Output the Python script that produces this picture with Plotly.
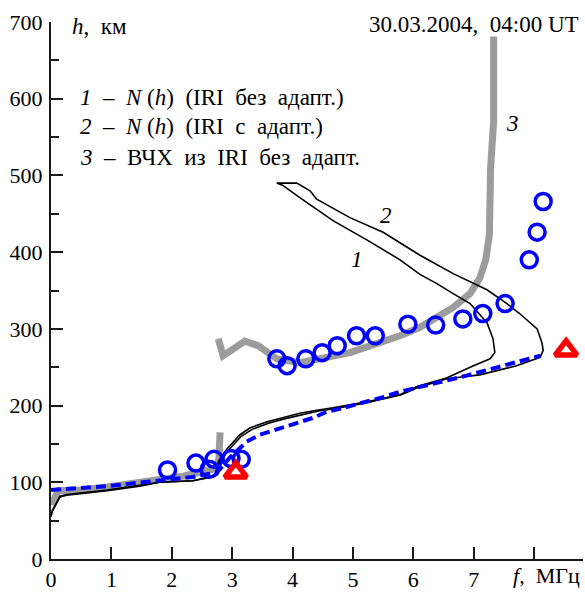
import plotly.graph_objects as go

# Curve 1: N(h) (IRI without adaptation) -- plasma frequency (MHz) vs height (km)
f1 = [0.0, 0.02, 0.15, 0.26, 0.93, 1.47, 1.8, 2.35, 2.68, 2.75, 2.77, 2.91, 3.13, 3.3, 3.58,
      3.85, 4.12, 4.4, 4.67, 5.23, 5.78, 6.06, 6.55, 6.94, 7.27, 7.35, 7.32, 7.22, 6.94, 6.66,
      6.39, 6.11, 5.78, 5.23, 4.67, 4.12, 3.84, 3.74]
h1 = [55, 62, 81, 83, 89, 95, 100, 102, 108, 111, 127, 143, 162, 171, 179,
      185, 190, 194, 197, 205, 214, 225, 236, 250, 261, 269, 287, 308, 333, 346,
      359, 371, 390, 416, 441, 471, 487, 490]

# Curve 2: N(h) (IRI with adaptation)
f2 = [0.0, 0.02, 0.15, 0.26, 0.93, 1.47, 1.8, 2.35, 2.68, 2.76, 2.79, 2.93, 3.15, 3.33, 3.6,
      3.88, 4.15, 4.43, 4.7, 5.25, 5.8, 6.06, 6.55, 7.1, 7.71, 8.1, 8.15, 8.13, 8.05, 7.76,
      7.55, 7.22, 6.66, 6.11, 5.5, 4.95, 4.4, 4.29, 4.07, 3.74]
h2 = [56, 63, 82, 84, 90, 96, 100, 102, 107, 110, 126, 141, 160, 169, 177,
      183, 188, 193, 196, 204, 214, 223, 235, 240, 252, 263, 272, 282, 300, 320,
      333, 351, 372, 396, 426, 445, 469, 480, 490, 490]

# Blue dashed profile
fb = [0.0, 0.93, 1.64, 2.35, 2.75, 2.96, 3.24, 3.46, 3.74, 4.07, 4.34, 4.57, 4.84, 5.5,
      5.78, 6.88, 7.71, 8.1]
hb = [90, 95, 101, 107, 113, 132, 153, 162, 169, 177, 184, 192, 197, 211,
      218, 239, 256, 265]

# Curve 3: virtual height characteristic (ВЧХ) from IRI, E part and F part
fg_e = [0.02, 0.04, 0.12, 0.5, 0.93, 1.47, 1.8, 2.19, 2.58, 2.72, 2.78, 2.8]
hg_e = [70, 76, 89, 90, 94, 100, 104, 108, 115, 118, 130, 165]
fg_f = [2.77, 2.85, 3.02, 3.21, 3.43, 3.57, 3.74, 4.12, 4.95, 5.78, 6.11, 6.39, 6.66,
        6.94, 7.1, 7.2, 7.26, 7.28, 7.31, 7.33, 7.33]
hg_f = [287, 265, 274, 284, 278, 269, 261, 256, 269, 291, 302, 315, 328,
        346, 366, 390, 423, 510, 550, 570, 681]

# Observed ionogram points (blue circles)
fc = [1.93, 2.40, 2.62, 2.70, 2.98, 3.15,
      3.74, 3.91, 4.22, 4.49, 4.74, 5.06, 5.37, 5.91, 6.37, 6.82, 7.15, 7.52, 7.92, 8.05, 8.15]
hc = [116, 125, 117, 130, 131, 130,
      261, 252, 261, 269, 278, 291, 291, 306, 305, 313, 320, 333, 390, 426, 466]

# Critical frequencies (red triangles)
ft = [3.06, 8.53]
ht = [113, 272]

x_ticks = [0, 1, 2, 3, 4, 5, 6, 7, 8]
x_labels = ["0", "1", "2", "3", "4", "5", "6", "7", ""]
y_ticks = [0, 100, 200, 300, 400, 500, 600, 700]

FONT = "Liberation Serif"
SP = "\u00a0"
fig = go.Figure()

fig.add_trace(go.Scatter(x=fg_e + [None] + fg_f, y=hg_e + [None] + hg_f, mode="lines",
                         line=dict(color="#9c9c9c", width=7), connectgaps=False, hoverinfo="skip"))
fig.add_trace(go.Scatter(x=f1, y=h1, mode="lines", line=dict(color="black", width=1.6)))
fig.add_trace(go.Scatter(x=f2, y=h2, mode="lines", line=dict(color="black", width=1.6)))
fig.add_trace(go.Scatter(x=fb, y=hb, mode="lines",
                         line=dict(color="#0000ff", width=4, dash="10px,5px")))
fig.add_trace(go.Scatter(x=fc, y=hc, mode="markers",
                         marker=dict(symbol="circle-open", size=16, color="#0000ff",
                                     line=dict(width=3.5, color="#0000ff"))))
fig.add_trace(go.Scatter(x=ft, y=ht, mode="markers",
                         marker=dict(symbol="triangle-up-open", size=19, color="#ff0000",
                                     line=dict(width=5.5, color="#ff0000"))))

D = f"{SP}{SP}"
leg1 = f"<i>1</i>{D}–{D}<i>N</i>{SP}(<i>h</i>){D}(IRI{D}без{D}адапт.)"
leg2 = f"<i>2</i>{D}–{D}<i>N</i>{SP}(<i>h</i>){D}(IRI{D}с{D}адапт.)"
leg3 = f"<i>3</i>{D}–{D}ВЧХ{D}из{D}IRI{D}без{D}адапт."

ann = [
    dict(x=0.31, y=694, text=f"<i>h</i>,{D}км", xanchor="left", size=23),
    dict(x=8.78, y=697, text=f"30.03.2004,{D}04:00{SP}UT", xanchor="right", size=23),
    dict(x=0.45, y=602, text=leg1, xanchor="left", size=23),
    dict(x=0.45, y=564, text=leg2, xanchor="left", size=23),
    dict(x=0.45, y=523, text=leg3, xanchor="left", size=23),
    dict(x=5.55, y=448, text="<i>2</i>", xanchor="center", size=23),
    dict(x=5.07, y=391, text="<i>1</i>", xanchor="center", size=23),
    dict(x=7.65, y=568, text="<i>3</i>", xanchor="center", size=23),
]
annotations = [dict(x=a["x"], y=a["y"], xref="x", yref="y", text=a["text"], showarrow=False,
                    xanchor=a["xanchor"], yanchor="middle",
                    font=dict(family=FONT, size=a["size"], color="black")) for a in ann]
annotations.append(dict(x=8.0, y=0, xref="x", yref="y", text=f"<i>f</i>,{D}МГц", showarrow=False,
                        xanchor="center", yanchor="top", yshift=-2, xshift=12,
                        font=dict(family=FONT, size=22, color="black")))

fig.update_layout(
    width=585, height=594,
    margin=dict(l=51, r=2, t=22, b=28),
    paper_bgcolor="white", plot_bgcolor="white",
    showlegend=False,
    font=dict(family=FONT, size=22, color="black"),
    annotations=annotations,
    xaxis=dict(range=[0, 8.81], tickmode="array", tickvals=x_ticks, ticktext=x_labels,
               showline=True, linecolor="#1a1a1a", linewidth=2, ticks="inside", ticklen=12,
               tickwidth=2, tickcolor="#1a1a1a", showgrid=False, zeroline=False,
               tickfont=dict(family=FONT, size=22)),
    yaxis=dict(range=[0, 700], tickmode="array", tickvals=y_ticks,
               showline=True, linecolor="#1a1a1a", linewidth=2, ticks="inside", ticklen=12,
               tickwidth=2, tickcolor="#1a1a1a", showgrid=False, zeroline=False,
               tickfont=dict(family=FONT, size=22), ticklabelstandoff=2,
               minor=dict(tickmode="linear", tick0=50, dtick=100, ticks="inside", ticklen=8,
                          tickwidth=2, tickcolor="#1a1a1a", showgrid=False)),
)

fig.write_html("out.html")
